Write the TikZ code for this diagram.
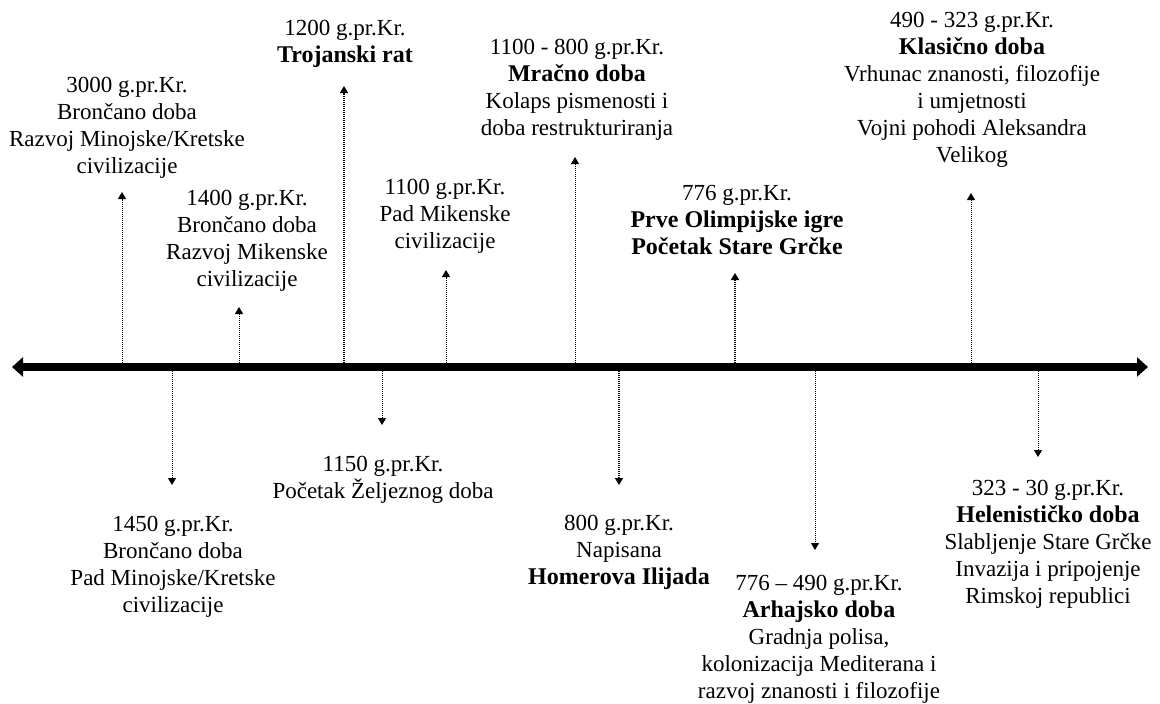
\documentclass[tikz,border=0pt]{standalone}
\usepackage{fontspec}
\setmainfont{Liberation Serif}
\usetikzlibrary{arrows.meta}

\tikzset{
  txt/.style = {align=center, inner sep=0pt, anchor=north,
    font=\fontsize{23}{27}\selectfont},
  pin/.style = {line width=1pt, dash pattern=on 1pt off 1pt,
    -{Triangle[length=7pt,width=8pt]}},
  thickpin/.style = {pin, line width=1.6pt},
  axis/.style = {line width=8pt,
    {Triangle[length=11pt,width=19pt]}-{Triangle[length=11pt,width=19pt]}}
}
\newcommand{\era}[1]{{\fontsize{24}{27}\selectfont\bfseries #1}}

\begin{document}
\begin{tikzpicture}[x=1pt,y=-1pt]
  \useasboundingbox (0,0) rectangle (1160,704);
  \coordinate (west) at (12,367);
  \coordinate (east) at (1148,367);
  \draw[axis] (west) -- (east);

  % above the axis
  \node[txt] (l3000) at (127,77.5) {3000 g.pr.Kr.\\Brončano doba\\Razvoj Minojske/Kretske\\civilizacije};
  \node[txt] (l1400) at (247,190.5) {1400 g.pr.Kr.\\Brončano doba\\Razvoj Mikenske\\civilizacije};
  \node[txt] (l1200) at (345,20.5) {1200 g.pr.Kr.\\\era{Trojanski rat}};
  \node[txt] (l1100) at (445,179.5) {1100 g.pr.Kr.\\Pad Mikenske\\civilizacije};
  \node[txt] (dark) at (577,39.5) {1100 - 800 g.pr.Kr.\\\era{Mračno doba}\\Kolaps pismenosti i\\doba restrukturiranja};
  \node[txt] (l776) at (737,185.5) {776 g.pr.Kr.\\\era{Prve Olimpijske igre}\\\era{Početak Stare Grčke}};
  \node[txt] (classic) at (972,12.5) {490 - 323 g.pr.Kr.\\\era{Klasično doba}\\Vrhunac znanosti, filozofije\\i umjetnosti\\Vojni pohodi Aleksandra\\Velikog};

  % below the axis
  \node[txt] (l1450) at (173,515.5) {1450 g.pr.Kr.\\Brončano doba\\Pad Minojske/Kretske\\civilizacije};
  \node[txt] (l1150) at (383,455.5) {1150 g.pr.Kr.\\Početak Željeznog doba};
  \node[txt] (l800) at (619,514.5) {800 g.pr.Kr.\\Napisana\\\era{Homerova Ilijada}};
  \node[txt] (archaic) at (819,574.5) {776 – 490 g.pr.Kr.\\\era{Arhajsko doba}\\Gradnja polisa,\\kolonizacija Mediterana i\\razvoj znanosti i filozofije};
  \node[txt] (hellen) at (1048,479.5) {323 - 30 g.pr.Kr.\\\era{Helenističko doba}\\Slabljenje Stare Grčke\\Invazija i pripojenje\\Rimskoj republici};

  % pointers
  \foreach \n/\x/\y/\s in {3000/122/192/pin, 1400/239/307/pin, 1200/344/86/thickpin,
      1100/446/270/pin, dark/575/157/pin, 776/735/273/thickpin, classic/971/193/pin}{
    \coordinate (b\n) at (\x,363);
    \coordinate (t\n) at (\x,\y);
    \draw[\s] (b\n) -- (t\n);
  }
  \foreach \n/\x/\y/\s in {1450/172/485/pin, 1150/382/425/pin, 800/619/485/thickpin,
      archaic/815/550/pin, hellen/1038/457/pin}{
    \coordinate (b\n) at (\x,371);
    \coordinate (t\n) at (\x,\y);
    \draw[\s] (b\n) -- (t\n);
  }
\end{tikzpicture}
\end{document}
